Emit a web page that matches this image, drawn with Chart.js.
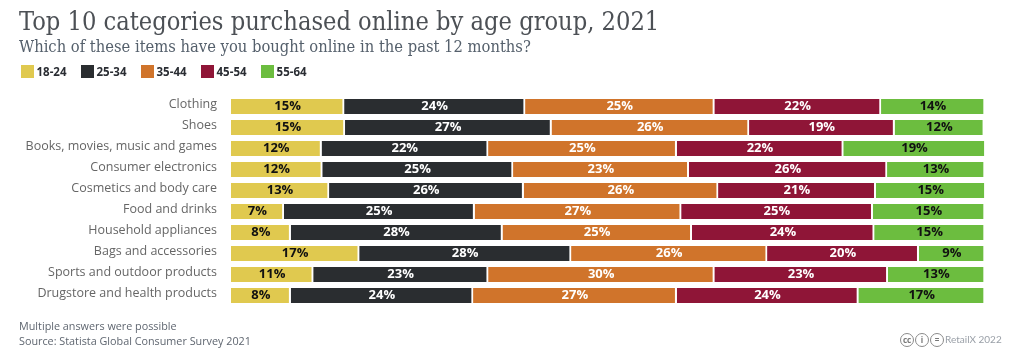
<!DOCTYPE html>
<html>
<head>
<meta charset="utf-8">
<script src="https://cdn.jsdelivr.net/npm/chart.js@4"></script>
<style>
  html, body { margin: 0; padding: 0; background: #fff; }
  #wrap { position: relative; width: 1015px; height: 356px; overflow: hidden; }
  #chart { position: absolute; left: 0; top: 0; }
  .txt { position: absolute; white-space: nowrap; font-family: "Open Sans", sans-serif; }
  #title { left: 19px; top: 7px; font: 25.2px "DejaVu Serif Condensed", "DejaVu Serif", serif; color: #4c5055; }
  #subtitle { left: 19px; top: 37px; font: 16.4px "DejaVu Serif Condensed", "DejaVu Serif", serif; color: #55606c; }
  #legend { left: 21px; top: 65px; display: flex; font-size: 11.5px; font-weight: bold; line-height: 13px; color: #2a2d33; }
  #legend div { display: flex; margin-right: 14.5px; }
  #legend i { display: block; width: 13px; height: 13px; margin-right: 2.5px; }
  #note { left: 19px; top: 318px; font-size: 10.8px; line-height: 15px; color: #5f6670; }
  #credit { left: 945px; top: 333px; font-family: Lato, sans-serif; font-size: 10px; color: #9aa0a8; }
  #icons { left: 900px; top: 333px; display: flex; }
  .cc { width: 12px; height: 12px; line-height: 11px; border: 1px solid #8a8a8a; border-radius: 50%; font-size: 8px; font-weight: bold; text-align: center; color: #777; margin-right: 1px; }
</style>
</head>
<body>
<div id="wrap">
  <canvas id="chart" width="1015" height="356"></canvas>
  <div class="txt" id="title">Top 10 categories purchased online by age group, 2021</div>
  <div class="txt" id="subtitle">Which of these items have you bought online in the past 12 months?</div>
  <div class="txt" id="legend"></div>
  <div class="txt" id="note">Multiple answers were possible<br>Source: Statista Global Consumer Survey 2021</div>
  <div class="txt" id="icons"><span class="cc">cc</span><span class="cc">i</span><span class="cc">=</span></div>
  <div class="txt" id="credit">RetailX 2022</div>
</div>
<script>
const categories = ['Clothing', 'Shoes', 'Books, movies, music and games', 'Consumer electronics',
  'Cosmetics and body care', 'Food and drinks', 'Household appliances', 'Bags and accessories',
  'Sports and outdoor products', 'Drugstore and health products'];

const age1824 = [15.0, 15.1, 12.0, 12.1, 13.0, 7.0, 7.9, 17.0, 10.9, 7.9];
const age2534 = [24.0, 27.4, 22.1, 25.3, 25.8, 25.3, 28.1, 28.1, 23.2, 24.2];
const age3544 = [25.1, 26.2, 25.0, 23.3, 25.8, 27.4, 25.1, 26.0, 30.0, 27.0];
const age4554 = [22.1, 19.3, 22.1, 26.3, 20.9, 25.4, 24.2, 20.1, 23.0, 24.1];
const age5564 = [13.8, 11.9, 18.9, 13.0, 14.6, 14.9, 14.7, 8.8, 12.9, 16.8];

const seriesLabels = ['18-24', '25-34', '35-44', '45-54', '55-64'];
const seriesColors = ['#e0c94f', '#2a2d30', '#d0742b', '#8f1537', '#6cbd3f'];
const labelColors = ['#111', '#fff', '#fff', '#fff', '#111'];

// prints the rounded percentage in the middle of each segment
const segmentLabels = {
  id: 'segmentLabels',
  afterDatasetsDraw(chart) {
    const ctx = chart.ctx;
    ctx.save();
    ctx.font = 'bold 13px "Open Sans", sans-serif';
    ctx.textAlign = 'center';
    ctx.textBaseline = 'middle';
    chart.data.datasets.forEach((ds, i) => {
      chart.getDatasetMeta(i).data.forEach((bar, j) => {
        ctx.fillStyle = labelColors[i];
        ctx.fillText(Math.round(ds.data[j]) + '%', (bar.base + bar.x) / 2, bar.y);
      });
    });
    ctx.restore();
  }
};

const allSeries = [age1824, age2534, age3544, age4554, age5564];

const chart = new Chart(document.getElementById('chart').getContext('2d'), {
  type: 'bar',
  plugins: [segmentLabels],
  data: {
    labels: categories,
    datasets: allSeries.map((data, i) => ({
      label: seriesLabels[i],
      data,
      backgroundColor: seriesColors[i],
      borderColor: '#fff',
      borderWidth: { right: 2 },
      borderSkipped: false,
      barThickness: 15,
      stack: 'a'
    }))
  },
  options: {
    indexAxis: 'y',
    responsive: false,
    animation: false,
    layout: { padding: { left: 8, right: 30, top: 96, bottom: 50 } },
    plugins: {
      tooltip: { enabled: false },
      legend: { display: false }
    },
    scales: {
      x: { stacked: true, display: false, min: 0, max: 100 },
      y: {
        stacked: true,
        grid: { display: false },
        border: { display: false },
        afterFit(scale) { scale.width = 223; },
        ticks: {
          color: '#666',
          padding: 6,
          labelOffset: -2,
          font: { family: '"Open Sans", sans-serif', size: 12.5 }
        }
      }
    }
  }
});

// html legend, the library one can't get the swatch/text gap this tight
document.getElementById('legend').innerHTML = chart.data.datasets.map(ds =>
  `<div><i style="background:${ds.backgroundColor}"></i>${ds.label}</div>`).join('');
</script>
</body>
</html>
